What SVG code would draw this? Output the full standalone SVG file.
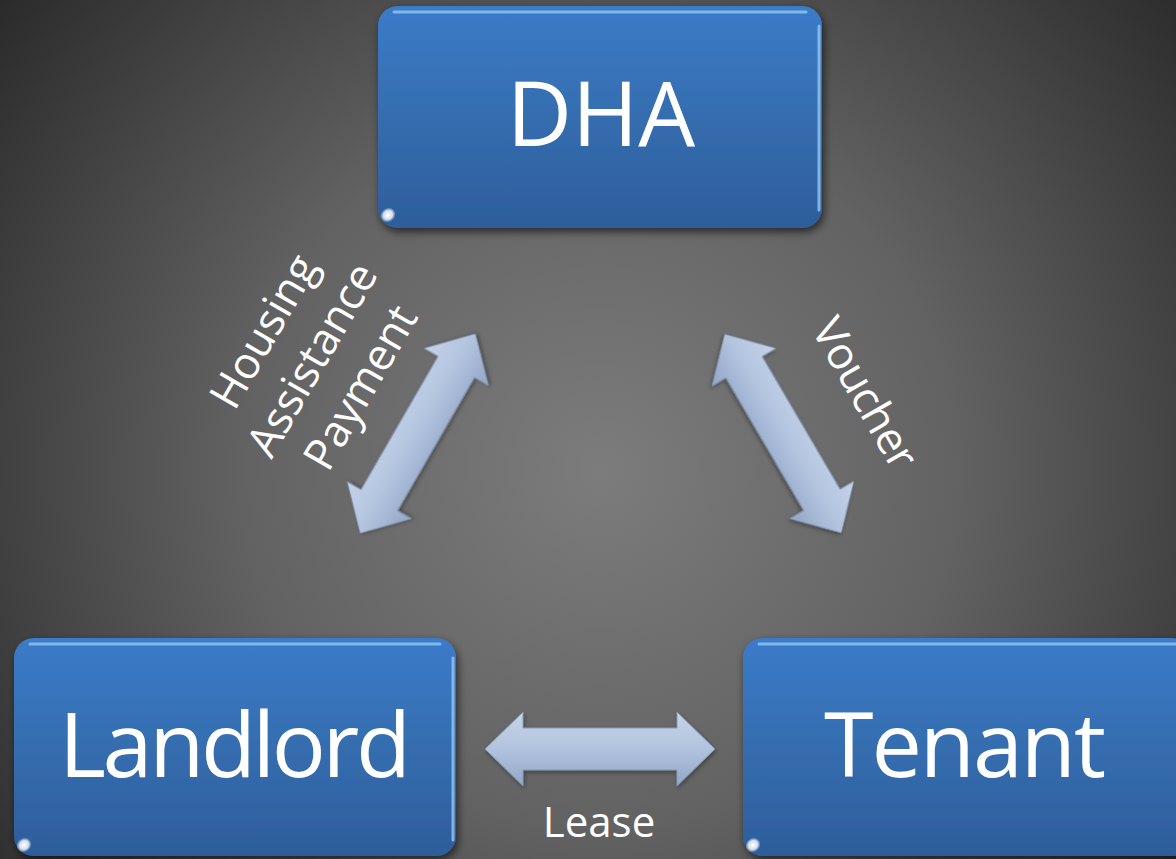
<svg xmlns="http://www.w3.org/2000/svg" width="1176" height="859" viewBox="0 0 1176 859">
  <defs>
    <radialGradient id="bg" gradientUnits="userSpaceOnUse" cx="600" cy="470" r="800">
      <stop offset="0" stop-color="#7c7c7c"/>
      <stop offset="0.45" stop-color="#626262"/>
      <stop offset="1" stop-color="#252525"/>
    </radialGradient>
    <linearGradient id="boxFill" x1="0" y1="0" x2="0" y2="1">
      <stop offset="0" stop-color="#3b7bc9"/>
      <stop offset="0.5" stop-color="#356daf"/>
      <stop offset="1" stop-color="#2e5d9b"/>
    </linearGradient>
    <linearGradient id="arrowFill" x1="0" y1="0" x2="0" y2="1">
      <stop offset="0" stop-color="#c6d3e8"/>
      <stop offset="0.45" stop-color="#b4c5e0"/>
      <stop offset="1" stop-color="#92a6c6"/>
    </linearGradient>
    <radialGradient id="glint" cx="0.5" cy="0.5" r="0.5">
      <stop offset="0" stop-color="#ffffff" stop-opacity="1"/>
      <stop offset="0.6" stop-color="#ffffff" stop-opacity="0.8"/>
      <stop offset="1" stop-color="#ffffff" stop-opacity="0"/>
    </radialGradient>
    <filter id="shadow" x="-10%" y="-10%" width="120%" height="125%">
      <feDropShadow dx="2" dy="4" stdDeviation="4" flood-color="#000000" flood-opacity="0.6"/>
    </filter>
    <filter id="ashadow" x="-20%" y="-20%" width="140%" height="140%">
      <feDropShadow dx="1" dy="2" stdDeviation="2" flood-color="#000000" flood-opacity="0.35"/>
    </filter>
    <path id="dblArrow" d="M -115 0 L -77 -37 L -77 -21 L 77 -21 L 77 -37 L 115 0 L 77 37 L 77 21 L -77 21 L -77 37 Z"/>
  </defs>
  <style>
    .box { fill: url(#boxFill); filter: url(#shadow); }
    .hl { fill: none; stroke: #8ec3f2; stroke-width: 3; stroke-linecap: round; opacity: 0.85; }
    .node-text { font-family: "Open Sans", "Noto Sans", sans-serif; font-size: 90px; fill: #ffffff; text-anchor: middle; }
    .label { font-family: "Open Sans", "Noto Sans", sans-serif; font-size: 44px; fill: #ffffff; text-anchor: middle; }
    .lease { font-size: 42px; }
    .arrow { fill: url(#arrowFill); stroke: #8597b5; stroke-width: 1; filter: url(#ashadow); }
  </style>

  <rect x="0" y="0" width="1176" height="859" fill="url(#bg)"/>

  <g id="dha">
    <rect class="box" x="378" y="6" width="444" height="222" rx="20" ry="20"/>
    <path class="hl" d="M 394 12 L 806 12"/>
    <path class="hl" d="M 819 26 L 819 210" stroke-width="2"/>
    <ellipse cx="388" cy="215" rx="8" ry="7" fill="url(#glint)" transform="rotate(-40 388 215)"/>
    <text class="node-text" x="601" y="146">DHA</text>
  </g>

  <g id="landlord">
    <rect class="box" x="14" y="638" width="442" height="218" rx="20" ry="20"/>
    <path class="hl" d="M 30 644 L 440 644"/>
    <path class="hl" d="M 453 658 L 453 840" stroke-width="2"/>
    <ellipse cx="24" cy="845" rx="8" ry="7" fill="url(#glint)" transform="rotate(-40 24 845)"/>
    <text class="node-text" x="235" y="777" textLength="352" lengthAdjust="spacing">Landlord</text>
  </g>

  <g id="tenant">
    <rect class="box" x="743" y="638" width="450" height="218" rx="20" ry="20"/>
    <path class="hl" d="M 759 644 L 1176 644"/>
    <ellipse cx="753" cy="845" rx="8" ry="7" fill="url(#glint)" transform="rotate(-40 753 845)"/>
    <text class="node-text" x="965" y="777" textLength="282" lengthAdjust="spacing">Tenant</text>
  </g>

  <g id="connectors">
    <g id="hap-arrow" transform="translate(417.75 433.5) rotate(-60)">
      <use href="#dblArrow" class="arrow"/>
    </g>
    <g id="voucher-arrow" transform="translate(783 433.5) rotate(59.6)">
      <use href="#dblArrow" class="arrow"/>
    </g>
    <g id="lease-arrow" transform="translate(600 749)">
      <use href="#dblArrow" class="arrow"/>
    </g>
    <g id="hap-label" transform="translate(313 360) rotate(-60)">
      <text class="label" x="0" y="-42">Housing</text>
      <text class="label" x="0" y="14">Assistance</text>
      <text class="label" x="0" y="70">Payment</text>
    </g>
    <g id="voucher-label" transform="translate(864 394) rotate(60)">
      <text class="label" x="0" y="14" textLength="166" lengthAdjust="spacing">Voucher</text>
    </g>
    <text class="label lease" x="599" y="837">Lease</text>
  </g>
</svg>
